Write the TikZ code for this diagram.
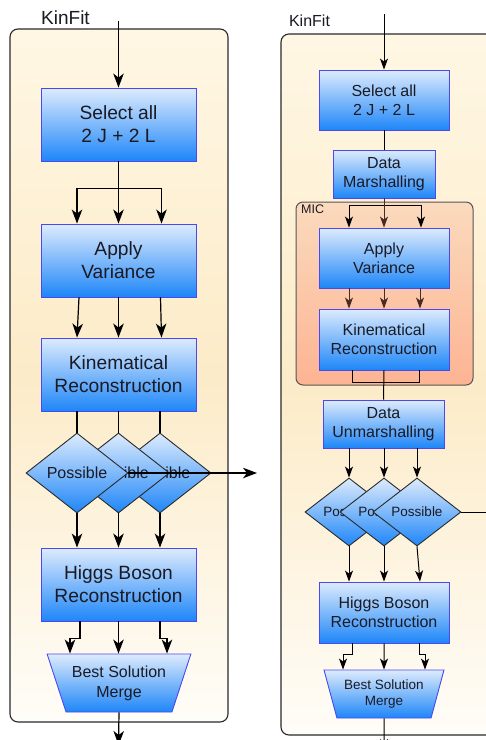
\documentclass[tikz,border=0pt]{standalone}
\usepackage{fontspec}
\setmainfont{Liberation Sans}
\usetikzlibrary{shapes.geometric,arrows.meta}
\definecolor{bxtop}{HTML}{DDEBFD}
\definecolor{bxbot}{HTML}{1E86F8}
\definecolor{bxline}{HTML}{4A48EE}
\definecolor{ctop}{HTML}{FFF7E4}
\definecolor{cmid}{HTML}{FCEBC8}
\definecolor{cbot}{HTML}{FFFDF8}
\definecolor{mtop}{HTML}{FBDABD}
\definecolor{mbot}{HTML}{FCB493}
\definecolor{brn}{HTML}{4A2A22}
\definecolor{txt}{HTML}{1A1A24}
\definecolor{edge}{HTML}{2A2A2A}
\begin{document}
\begin{tikzpicture}[x=1pt,y=-1pt,
  every node/.style={text=txt},
  bigfont/.style={font=\fontsize{19.2}{23}\selectfont},
  midfont/.style={font=\fontsize{16}{19}\selectfont},
  smallfont/.style={font=\fontsize{13.5}{16}\selectfont},
  bluebox/.style={draw=bxline, line width=0.9pt, top color=bxtop, bottom color=bxbot, align=center, inner sep=0pt},
  decision/.style={diamond, draw=edge, line width=0.9pt, top color=bxtop, bottom color=bxbot, inner sep=0pt, aspect=1},
  merge/.style={trapezium, trapezium stretches=true, draw=bxline, line width=0.9pt, top color=bxtop, bottom color=bxbot, align=center, inner sep=0pt},
  cont/.style={draw=edge, line width=1.1pt, rounded corners=8pt, top color=ctop, bottom color=cbot, middle color=cmid},
  micbox/.style={draw=edge!80, line width=1pt, rounded corners=7pt, top color=mtop, bottom color=mbot},
  arr/.style={-{Stealth[length=14pt,width=10.5pt,inset=4pt]}, line width=1.2pt, draw=black},
  arrs/.style={-{Stealth[length=11pt,width=8pt,inset=3pt]}, line width=1pt, draw=black},
  brarr/.style={-{Stealth[length=11pt,width=8pt,inset=3pt,color=brn]}, line width=1pt, draw=brn},
  plain/.style={line width=1.2pt, draw=black},
  plains/.style={line width=1pt, draw=black}
]
\clip (0,0) rectangle (486,740);
\fill[white] (0,0) rectangle (486,740);

% ---------------- left panel ----------------
\draw[cont] (10,29) rectangle (228,722);
\node[font=\fontsize{19}{22}\selectfont] (lk) at (65.5,18) {KinFit};
\coordinate (lin) at (118.5,21);
\node[bluebox,bigfont,minimum width=155pt,minimum height=73pt] (lsel) at (118.5,124.5) {Select all\\2 J + 2 L};
\node[bluebox,bigfont,minimum width=155pt,minimum height=73pt] (lapp) at (118.5,260.5) {Apply\\Variance};
\node[bluebox,bigfont,minimum width=155pt,minimum height=73pt] (lkin) at (118.5,374.5) {Kinematical\\Reconstruction};
\node[decision,midfont,minimum width=102pt,minimum height=80pt] (lp3) at (160,473) {Possible};
\node[decision,midfont,minimum width=102pt,minimum height=80pt] (lp2) at (118.5,473) {Possible};
\node[decision,midfont,minimum width=102pt,minimum height=80pt] (lp1) at (77,473) {Possible};
\node[bluebox,bigfont,minimum width=155pt,minimum height=73pt] (lhig) at (118.5,584.5) {Higgs Boson\\Reconstruction};
\node[merge,font=\fontsize{16}{20}\selectfont,minimum width=144pt,minimum height=58pt,trapezium left angle=115.8,trapezium right angle=115.8] (lmer) at (119,683) {Best Solution\\Merge};
\coordinate (lout) at (257,473);
\coordinate (lend) at (118.5,745);

\draw[arr] (lin) -- (lsel.north);
\draw[plain] (lsel.south) -- ++(0,27) coordinate (lf);
\draw[arr] (lf) -| ([xshift=-41.5pt]lapp.north);
\draw[arr] (lf) -| ([xshift=43pt]lapp.north);
\draw[arr] (lsel.south) -- (lapp.north);
\draw[arr] ([xshift=-39.5pt]lapp.south) -- ([xshift=-41.5pt]lkin.north);
\draw[arr] (lapp.south) -- (lkin.north);
\draw[arr] ([xshift=42pt]lapp.south) -- ([xshift=43pt]lkin.north);
\draw[plain] (lkin.south -| lp1.north) -- (lp1.north);
\draw[plain] (lkin.south -| lp2.north) -- (lp2.north);
\draw[plain] (lkin.south -| lp3.north) -- (lp3.north);
\draw[arr] (lp1.east) -- (lout);
\draw[arr] (lp1.south) -- (lp1.south |- lhig.north);
\draw[arr] (lp2.south) -- (lp2.south |- lhig.north);
\draw[arr] (lp3.south) -- (lp3.south |- lhig.north);
\draw[arr] ([xshift=-38.5pt]lhig.south) -- ++(0,17) -| ([xshift=-49pt]lmer.north);
\draw[arr] (lhig.south) -- (lhig.south |- lmer.north);
\draw[arr] ([xshift=41.5pt]lhig.south) -- ++(0,17) -| ([xshift=48pt]lmer.north);
\draw[arr] (lmer.south) -- (lend);

% ---------------- right panel ----------------
\draw[cont] (281,34) rectangle (497,735);
\node[font=\fontsize{16}{19}\selectfont] (rk) at (309.5,21) {KinFit};
\coordinate (rin) at (384,14);
\node[bluebox,midfont,minimum width=130pt,minimum height=60pt] (rsel) at (384,100) {Select all\\2 J + 2 L};
\node[bluebox,midfont,minimum width=102pt,minimum height=48pt] (rdm) at (384,174) {Data\\Marshalling};
\draw[micbox] (296,202) rectangle (473,385);
\node[anchor=north west,font=\fontsize{12.5}{14}\selectfont,inner sep=0pt] (mic) at (301,205) {MIC};
\node[bluebox,midfont,minimum width=130pt,minimum height=60pt] (rapp) at (384,258) {Apply\\Variance};
\node[bluebox,midfont,minimum width=130pt,minimum height=61pt] (rkin) at (384,339.5) {Kinematical\\Reconstruction};
\node[bluebox,midfont,minimum width=121pt,minimum height=48pt] (rdu) at (383.5,424) {Data\\Unmarshalling};
\node[decision,smallfont,minimum width=88pt,minimum height=68pt] (rp1) at (349,512) {Possible};
\node[decision,smallfont,minimum width=88pt,minimum height=68pt] (rp2) at (384,512) {Possible};
\node[decision,smallfont,minimum width=88pt,minimum height=68pt] (rp3) at (417,512) {Possible};
\node[bluebox,midfont,minimum width=130pt,minimum height=61pt] (rhig) at (384,612.5) {Higgs Boson\\Reconstruction};
\node[merge,font=\fontsize{13.5}{16.5}\selectfont,minimum width=120pt,minimum height=48pt,trapezium left angle=110.6,trapezium right angle=110.6] (rmer) at (384,694) {Best Solution\\Merge};
\coordinate (rout) at (496,512);
\coordinate (rend) at (384,750);

\draw[arrs] (rin) -- (rsel.north);
\draw[plains] (rsel.south) -- (rdm.north);
\draw[plains] (rdm.south) -- ++(0,7) coordinate (rf);
\draw[arrs] (rf) -| ([xshift=-35pt]rapp.north);
\draw[arrs] (rf) -| ([xshift=37pt]rapp.north);
\draw[brarr] (rdm.south) -- (rapp.north);
\draw[brarr] ([xshift=-35pt]rapp.south) -- ([xshift=-35pt]rkin.north);
\draw[brarr] (rapp.south) -- (rkin.north);
\draw[brarr] ([xshift=36pt]rapp.south) -- ([xshift=36pt]rkin.north);
\draw[plains] ([xshift=-32pt]rkin.south) -- ++(0,12) -| ([xshift=35pt]rkin.south);
\draw[plains] (rkin.south) -- (rdu.north);
\draw[arrs] (rdu.south -| rp1.north) -- (rp1.north);
\draw[arrs] (rdu.south -| rp2.north) -- (rp2.north);
\draw[arrs] (rdu.south -| rp3.north) -- (rp3.north);
\draw[plains] (rp3.east) -- (rout);
\draw[arrs] (rp1.south) -- (rp1.south |- rhig.north);
\draw[arrs] (rp2.south) -- (rp2.south |- rhig.north);
\draw[arrs] (rp3.south) -- ([xshift=36pt]rhig.north);
\draw[arrs] ([xshift=-32pt]rhig.south) -- ++(0,11) -| ([xshift=-41pt]rmer.north);
\draw[arrs] (rhig.south) -- (rmer.north);
\draw[arrs] ([xshift=35pt]rhig.south) -- ++(0,11) -| ([xshift=41pt]rmer.north);
\draw[arrs] (rmer.south) -- (rend);
\end{tikzpicture}
\end{document}
